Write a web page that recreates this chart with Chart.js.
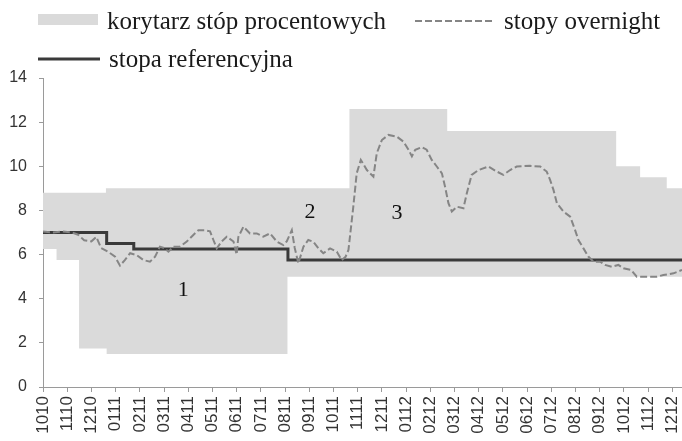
<!DOCTYPE html>
<html>
<head>
<meta charset="utf-8">
<script src="https://cdn.jsdelivr.net/npm/chart.js@4.4.0/dist/chart.umd.min.js"></script>
<style>
html,body{margin:0;padding:0;background:#fff;}
#wrap{width:682px;height:441px;position:relative;}
</style>
</head>
<body>
<div id="wrap"><canvas id="c" width="682" height="441"></canvas></div>
<script>
// x positions are in months counted from 10.2010 (index of monthLabels)
const monthLabels = ['1010','1110','1210','0111','0211','0311','0411','0511','0611','0711','0811','0911','1011','1111','1211','0112','0212','0312','0412','0512','0612','0712','0812','0912','1012','1112','1212'];
const yTickValues = [0, 2, 4, 6, 8, 10, 12, 14];

const corridorUpperMonths = [0, 2.6, 12.66, 16.7, 23.68, 24.67, 25.77, 26.4];
const corridorUpperRates  = [8.8, 9.0, 12.6, 11.6, 10.0, 9.5, 9.0, 9.0];
const corridorLowerMonths = [0, 0.56, 1.49, 2.63, 10.1, 26.4];
const corridorLowerRates  = [6.25, 5.75, 1.75, 1.5, 5.0, 5.0];
const referenceMonths = [0, 2.63, 3.75, 10.12, 26.4];
const referenceRates  = [7.0, 6.5, 6.25, 5.75, 5.75];

const overnightMonths = [0, 0.4, 0.8, 1.2, 1.45, 1.7, 2.0, 2.2, 2.4, 2.69, 2.98, 3.18, 3.38, 3.6, 3.87, 4.15, 4.42, 4.63, 4.83, 5.0, 5.18, 5.39, 5.66, 5.94, 6.21, 6.42, 6.7, 6.9, 7.04, 7.18, 7.38, 7.59, 7.87, 8.0, 8.07, 8.28, 8.55, 8.83, 9.1, 9.38, 9.66, 9.93, 10.07, 10.28, 10.4, 10.55, 10.76, 10.96, 11.17, 11.38, 11.58, 11.86, 12.14, 12.34, 12.5, 12.62, 12.82, 12.96, 13.13, 13.38, 13.65, 13.79, 14.0, 14.27, 14.62, 14.89, 15.1, 15.24, 15.38, 15.65, 15.85, 16.06, 16.27, 16.48, 16.61, 16.75, 16.89, 17.1, 17.37, 17.51, 17.71, 17.99, 18.4, 18.75, 19.02, 19.3, 19.57, 20.12, 20.54, 20.81, 20.95, 21.09, 21.23, 21.5, 21.78, 21.98, 22.12, 22.33, 22.53, 22.74, 23.02, 23.22, 23.5, 23.77, 23.98, 24.3, 24.53, 24.95, 25.36, 25.63, 26.05, 26.4];
const overnightRates = [7.05, 7.0, 7.05, 7.0, 6.9, 6.65, 6.6, 6.8, 6.3, 6.13, 5.9, 5.5, 5.75, 6.06, 5.98, 5.75, 5.68, 5.9, 6.36, 6.3, 6.13, 6.36, 6.36, 6.59, 6.89, 7.1, 7.1, 7.05, 6.66, 6.28, 6.59, 6.81, 6.59, 6.0, 6.8, 7.26, 6.96, 6.96, 6.81, 6.96, 6.59, 6.43, 6.6, 7.11, 6.3, 5.6, 6.36, 6.66, 6.58, 6.28, 6.06, 6.28, 6.13, 5.75, 5.9, 6.21, 8.17, 9.68, 10.29, 9.83, 9.53, 10.59, 11.19, 11.42, 11.34, 11.12, 10.75, 10.45, 10.75, 10.87, 10.75, 10.29, 9.99, 9.68, 9.08, 8.33, 7.95, 8.17, 8.1, 8.78, 9.61, 9.83, 9.99, 9.76, 9.61, 9.83, 9.99, 10.02, 9.99, 9.76, 9.38, 8.93, 8.33, 7.95, 7.72, 7.12, 6.66, 6.28, 5.91, 5.68, 5.68, 5.53, 5.45, 5.53, 5.38, 5.3, 5.0, 5.0, 5.0, 5.07, 5.15, 5.3];

const regionLabels = ['1', '2', '3'];
const regionMonths = [5.79, 11.03, 14.63];
const regionRates  = [4.4, 7.93, 7.88];

const legendTexts = ['korytarz stóp procentowych', 'stopy overnight', 'stopa referencyjna'];

// styles / layout (kept apart from the data)
const BAND = '#dadada', ON = '#858585', REF = '#3a3a3a', TEXT = '#1a1a1a';
const SERIF = '"Liberation Serif", "Times New Roman", serif';
const legendSlots = [
  {kind: 'box',  x: 38,  y: 22, w: 60},
  {kind: 'dash', x: 415, y: 22, w: 80},
  {kind: 'line', x: 38,  y: 60, w: 62}
];

const pts = (xs, ys) => xs.map((x, i) => ({x: x, y: ys[i]}));

const overlayPlugin = {
  id: 'overlay',
  afterDatasetsDraw(chart) {
    const {ctx, scales} = chart;
    ctx.save();
    ctx.font = '22px ' + SERIF;
    ctx.fillStyle = '#111';
    ctx.textAlign = 'center';
    ctx.textBaseline = 'middle';
    regionLabels.forEach((t, i) => {
      ctx.fillText(t, scales.x.getPixelForValue(regionMonths[i]), scales.y.getPixelForValue(regionRates[i]));
    });
    ctx.restore();
  },
  afterDraw(chart) {
    const ctx = chart.ctx;
    ctx.save();
    legendSlots.forEach((s, i) => {
      ctx.setLineDash([]);
      if (s.kind === 'box') {
        ctx.fillStyle = BAND;
        ctx.fillRect(s.x, s.y - 8, s.w, 11);
      } else {
        ctx.beginPath();
        ctx.strokeStyle = s.kind === 'dash' ? ON : REF;
        ctx.lineWidth = s.kind === 'dash' ? 2 : 3;
        if (s.kind === 'dash') ctx.setLineDash([7, 3]);
        ctx.moveTo(s.x, s.y - 1);
        ctx.lineTo(s.x + s.w, s.y - 1);
        ctx.stroke();
      }
      ctx.setLineDash([]);
      ctx.font = '25px ' + SERIF;
      ctx.fillStyle = TEXT;
      ctx.textAlign = 'left';
      ctx.textBaseline = 'middle';
      ctx.fillText(legendTexts[i], s.x + s.w + 9, s.y);
    });
    ctx.restore();
  }
};

Chart.defaults.font.family = '"Liberation Sans", Arial, sans-serif';

new Chart(document.getElementById('c'), {
  type: 'line',
  data: {
    datasets: [
      {label: legendTexts[1], data: pts(overnightMonths, overnightRates), borderColor: ON, borderWidth: 2, borderDash: [7, 3], pointRadius: 0, fill: false, tension: 0},
      {label: legendTexts[2], data: pts(referenceMonths, referenceRates), borderColor: REF, borderWidth: 3, stepped: 'before', pointRadius: 0, fill: false},
      {label: legendTexts[0], data: pts(corridorUpperMonths, corridorUpperRates), borderWidth: 0, borderColor: BAND, backgroundColor: BAND, stepped: 'before', pointRadius: 0, fill: '+1'},
      {label: 'dolna granica', data: pts(corridorLowerMonths, corridorLowerRates), borderWidth: 0, borderColor: BAND, stepped: 'before', pointRadius: 0, fill: false}
    ]
  },
  options: {
    responsive: false,
    animation: false,
    devicePixelRatio: 1,
    layout: {padding: {top: 78, left: 0, right: 0, bottom: 0}},
    plugins: {
      filler: {drawTime: 'beforeDatasetsDraw'},
      tooltip: {enabled: false},
      legend: {display: false}
    },
    scales: {
      x: {
        type: 'linear',
        min: 0,
        max: 26.4,
        afterBuildTicks: s => { s.ticks = monthLabels.map((_, i) => ({value: i})); },
        afterFit: s => { s.height = 54; s.paddingLeft = 0; s.paddingRight = 0; },
        ticks: {autoSkip: false, minRotation: 90, maxRotation: 90, padding: 4, color: '#333', font: {size: 17}, callback: v => monthLabels[v]},
        grid: {drawOnChartArea: false, drawTicks: true, tickLength: 5, color: '#9a9a9a'},
        border: {display: true, color: '#9a9a9a', width: 1}
      },
      y: {
        min: 0,
        max: 14,
        afterBuildTicks: s => { s.ticks = yTickValues.map(v => ({value: v})); },
        afterFit: s => { s.width = 43; },
        ticks: {padding: 12, color: '#333', font: {size: 16}},
        grid: {drawOnChartArea: false, drawTicks: true, tickLength: 4, color: '#9a9a9a'},
        border: {display: true, color: '#9a9a9a', width: 1}
      }
    }
  },
  plugins: [overlayPlugin]
});
</script>
</body>
</html>
